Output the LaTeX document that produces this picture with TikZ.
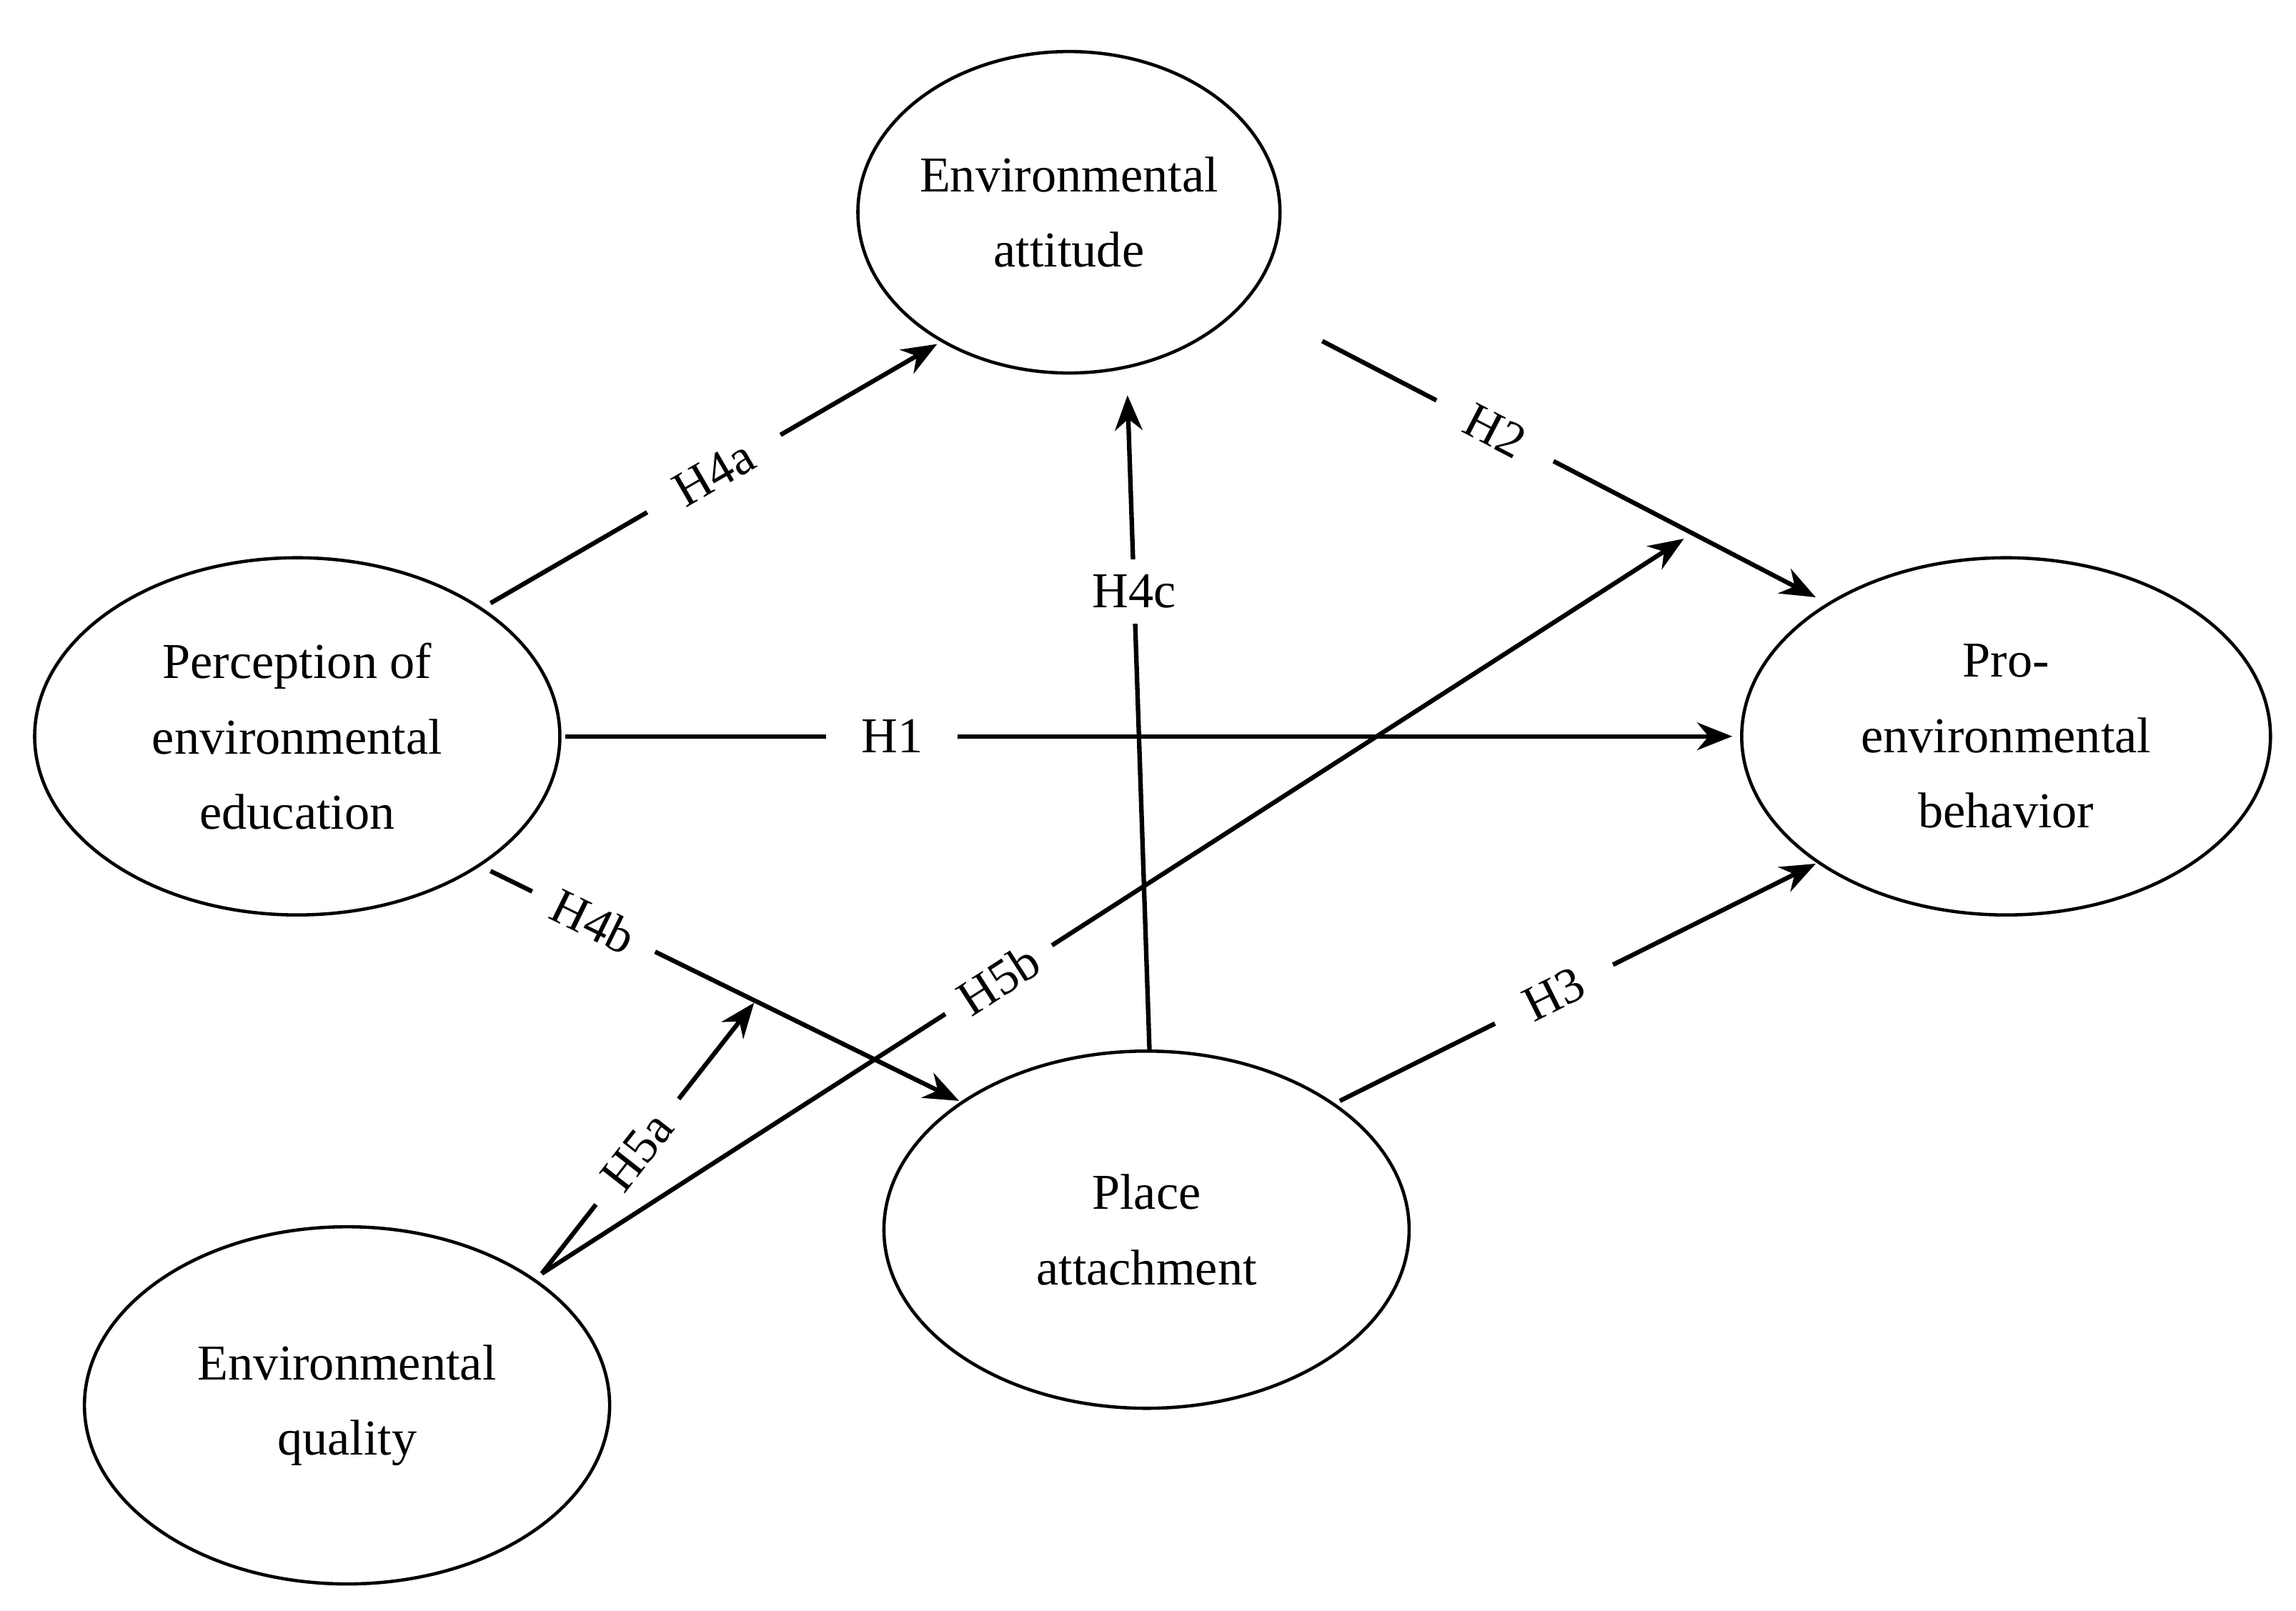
\documentclass[tikz,border=0pt]{standalone}
\usepackage{fontspec}
\setmainfont{Liberation Serif}
\usetikzlibrary{shapes.geometric,arrows.meta}
\begin{document}
\begin{tikzpicture}[x=0.0205cm,y=-0.0205cm,
  el/.style={draw,ellipse,line width=1.3pt,align=center,font=\fontsize{20}{30}\selectfont},
  ar/.style={line width=1.8pt,-{Stealth[length=14pt,width=11pt]}},
  lab/.style={fill=white,font=\fontsize{20}{24}\selectfont,inner sep=14pt}]
\useasboundingbox (0,0) rectangle (1568,1100);
\node[el,inner sep=0pt,minimum width=5.9cm,minimum height=4.5cm] (ea) at (730,145) {Environmental\\attitude};
\node[el,minimum width=7.35cm,minimum height=5.0cm] (pe) at (203,503) {Perception of\\environmental\\education};
\node[el,minimum width=7.4cm,minimum height=5.0cm] (pb) at (1370,503) {Pro-\\environmental\\behavior};
\node[el,minimum width=7.35cm,minimum height=5.0cm] (pa) at (783,840) {Place\\attachment};
\node[el,minimum width=7.35cm,minimum height=5.0cm] (eq) at (237,960) {Environmental\\quality};
\coordinate (a1) at (335,412); \coordinate (a2) at (640,235);
\coordinate (b1) at (903,233); \coordinate (b2) at (1240,408);
\coordinate (c1) at (386,503); \coordinate (c2) at (1183,503);
\coordinate (d1) at (785,717); \coordinate (d2) at (770,270);
\coordinate (e1) at (370,870); \coordinate (e2) at (1150,368);
\coordinate (f1) at (335,595); \coordinate (f2) at (655,752);
\coordinate (g2) at (515,685);
\coordinate (h1) at (915,752); \coordinate (h2) at (1240,590);
\draw[ar] (a1) -- node[lab,sloped,pos=0.5] {H4a} (a2);
\draw[ar] (b1) -- node[lab,sloped,pos=0.35] {H2} (b2);
\draw[ar] (c1) -- node[lab,pos=0.28] {H1} (c2);
\draw[ar] (d1) -- node[lab,pos=0.7,inner sep=6pt] {H4c} (d2);
\draw[ar] (f1) -- node[lab,sloped,pos=0.22,inner sep=10pt] {H4b} (f2);
\draw[ar] (e1) -- node[lab,sloped,pos=0.45,inner sep=10pt] {H5a} (g2);
\draw[ar] (e1) -- node[lab,sloped,pos=0.4,inner sep=8pt] {H5b} (e2);
\draw[ar] (h1) -- node[lab,sloped,pos=0.45] {H3} (h2);
\end{tikzpicture}
\end{document}
